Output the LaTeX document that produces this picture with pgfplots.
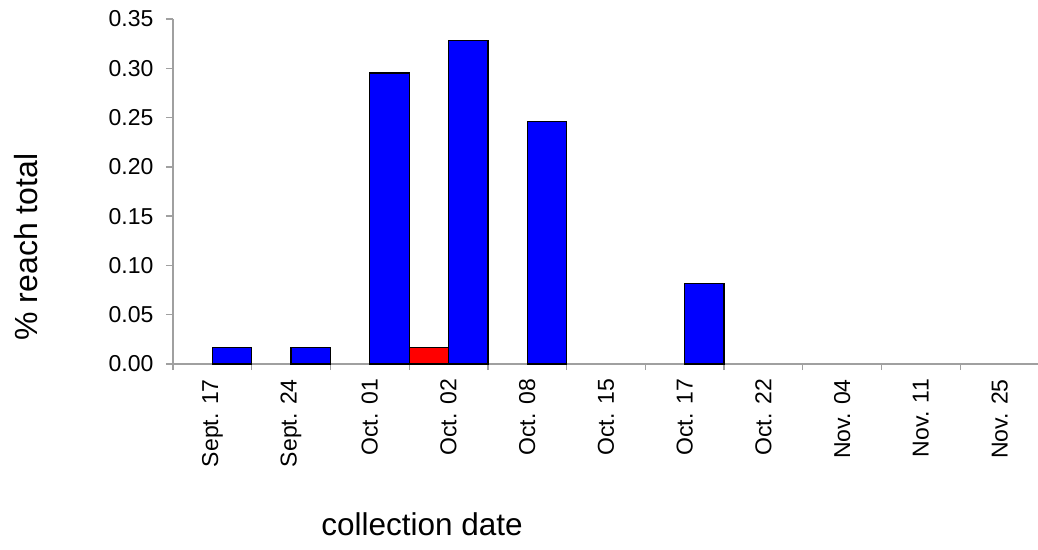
\documentclass[border=0pt]{standalone}
\usepackage{fontspec}
\setmainfont{Liberation Sans}
\usepackage{pgfplots}
\pgfplotsset{compat=1.18}

\definecolor{barblue}{RGB}{0,0,255}
\definecolor{barred}{RGB}{255,0,0}
\definecolor{axisgray}{RGB}{160,160,160}

\begin{document}
\begin{tikzpicture}
\begin{axis}[
  scale only axis,
  width=866pt, height=345pt,
  at={(0pt,0pt)}, anchor=south west,
  xmin=-0.5, xmax=10.5,
  ymin=0, ymax=0.35,
  axis lines*=left,
  axis line style={axisgray, line width=1.3pt, -},
  tick align=outside,
  major tick length=7pt,
  minor tick length=6pt,
  ytick={0,0.05,0.10,0.15,0.20,0.25,0.30,0.35},
  yticklabel style={
    /pgf/number format/fixed,
    /pgf/number format/fixed zerofill,
    /pgf/number format/precision=2,
    /pgf/number format/assume math mode=true,
    font=\fontsize{23}{27}\selectfont, xshift=-9pt},
  ytick style={axisgray, line width=1.3pt},
  xtick={0,1,2,3,4,5,6,7,8,9,10},
  xticklabels={Sept. 17, Sept. 24, Oct. 01, Oct. 02, Oct. 08, Oct. 15,
               Oct. 17, Oct. 22, Nov. 04, Nov. 11, Nov. 25},
  major x tick style={draw=none},
  minor xtick={-0.5,0.5,1.5,2.5,3.5,4.5,5.5,6.5,7.5,8.5,9.5,10.5},
  minor x tick style={axisgray, line width=1.3pt},
  xticklabel style={rotate=90, anchor=east, inner sep=0pt,
    xshift=-8pt, font=\fontsize{23}{27}\selectfont},
  xlabel={collection date},
  xlabel style={at={(axis description cs:0.2875,-0.4977)}, anchor=base,
    inner sep=0pt, font=\fontsize{31.5}{36}\selectfont},
  ylabel={\% reach total},
  ylabel style={at={(axis description cs:-0.1698,0.3391)}, anchor=center,
    rotate=0, inner sep=0pt, font=\fontsize{32}{36}\selectfont},
  clip=false,
]
% first series (left half of each category)
\addplot[ybar, bar width=0.5, bar shift=-0.25, fill=barred, draw=black, line width=1.3pt]
  coordinates {(3,0.0164)};
% second series (right half of each category)
\addplot[ybar, bar width=0.5, bar shift=0.25, fill=barblue, draw=black, line width=1.3pt]
  coordinates {(0,0.0164) (1,0.0164) (2,0.2951) (3,0.3279) (4,0.2459) (6,0.0820)};
\end{axis}
\pgfresetboundingbox
\path[use as bounding box] (-173pt,-185pt) rectangle (865pt,364pt);
\end{tikzpicture}
\end{document}
